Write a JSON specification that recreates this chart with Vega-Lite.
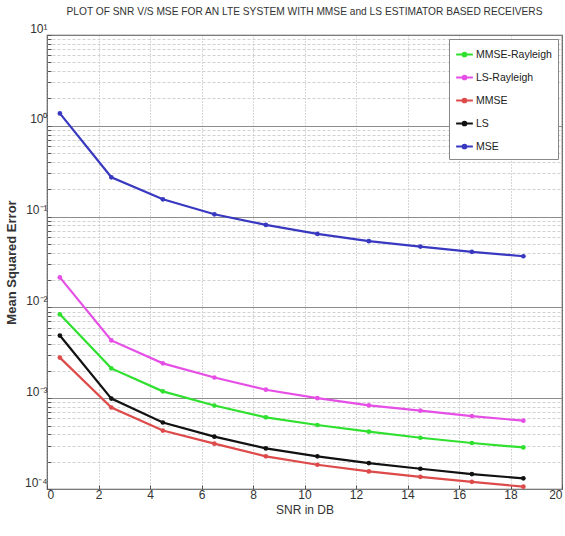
{
  "$schema": "https://vega.github.io/schema/vega-lite/v6.json",
  "width": 515,
  "height": 454,
  "autosize": {"type": "none"},
  "padding": {"left": 47, "top": 35, "right": 3, "bottom": 47},
  "background": "white",
  "title": {
    "text": "PLOT OF SNR V/S MSE FOR AN LTE SYSTEM WITH MMSE and LS ESTIMATOR BASED RECEIVERS",
    "font": "Liberation Sans",
    "fontSize": 10.2,
    "fontWeight": "normal",
    "color": "#333",
    "anchor": "middle",
    "offset": 5
  },
  "config": {
    "view": {"stroke": "#555", "strokeWidth": 1.2},
    "font": "Liberation Sans"
  },
  "data": {
    "values": [
      {"snr": 0.5, "mse": 1.37, "series": "MSE"},
      {"snr": 2.5, "mse": 0.271, "series": "MSE"},
      {"snr": 4.5, "mse": 0.155, "series": "MSE"},
      {"snr": 6.5, "mse": 0.106, "series": "MSE"},
      {"snr": 8.5, "mse": 0.081, "series": "MSE"},
      {"snr": 10.5, "mse": 0.0645, "series": "MSE"},
      {"snr": 12.5, "mse": 0.0536, "series": "MSE"},
      {"snr": 14.5, "mse": 0.0468, "series": "MSE"},
      {"snr": 16.5, "mse": 0.0409, "series": "MSE"},
      {"snr": 18.5, "mse": 0.0366, "series": "MSE"},
      {"snr": 0.5, "mse": 0.0214, "series": "LS-Rayleigh"},
      {"snr": 2.5, "mse": 0.00433, "series": "LS-Rayleigh"},
      {"snr": 4.5, "mse": 0.00242, "series": "LS-Rayleigh"},
      {"snr": 6.5, "mse": 0.00169, "series": "LS-Rayleigh"},
      {"snr": 8.5, "mse": 0.00124, "series": "LS-Rayleigh"},
      {"snr": 10.5, "mse": 0.00100, "series": "LS-Rayleigh"},
      {"snr": 12.5, "mse": 0.000833, "series": "LS-Rayleigh"},
      {"snr": 14.5, "mse": 0.000728, "series": "LS-Rayleigh"},
      {"snr": 16.5, "mse": 0.000636, "series": "LS-Rayleigh"},
      {"snr": 18.5, "mse": 0.000565, "series": "LS-Rayleigh"},
      {"snr": 0.5, "mse": 0.0084, "series": "MMSE-Rayleigh"},
      {"snr": 2.5, "mse": 0.00213, "series": "MMSE-Rayleigh"},
      {"snr": 4.5, "mse": 0.00119, "series": "MMSE-Rayleigh"},
      {"snr": 6.5, "mse": 0.00083, "series": "MMSE-Rayleigh"},
      {"snr": 8.5, "mse": 0.000615, "series": "MMSE-Rayleigh"},
      {"snr": 10.5, "mse": 0.000507, "series": "MMSE-Rayleigh"},
      {"snr": 12.5, "mse": 0.000428, "series": "MMSE-Rayleigh"},
      {"snr": 14.5, "mse": 0.000367, "series": "MMSE-Rayleigh"},
      {"snr": 16.5, "mse": 0.000321, "series": "MMSE-Rayleigh"},
      {"snr": 18.5, "mse": 0.000287, "series": "MMSE-Rayleigh"},
      {"snr": 0.5, "mse": 0.0049, "series": "LS"},
      {"snr": 2.5, "mse": 0.00099, "series": "LS"},
      {"snr": 4.5, "mse": 0.00054, "series": "LS"},
      {"snr": 6.5, "mse": 0.000377, "series": "LS"},
      {"snr": 8.5, "mse": 0.00028, "series": "LS"},
      {"snr": 10.5, "mse": 0.000229, "series": "LS"},
      {"snr": 12.5, "mse": 0.000193, "series": "LS"},
      {"snr": 14.5, "mse": 0.000167, "series": "LS"},
      {"snr": 16.5, "mse": 0.000146, "series": "LS"},
      {"snr": 18.5, "mse": 0.000131, "series": "LS"},
      {"snr": 0.5, "mse": 0.0028, "series": "MMSE"},
      {"snr": 2.5, "mse": 0.00079, "series": "MMSE"},
      {"snr": 4.5, "mse": 0.00044, "series": "MMSE"},
      {"snr": 6.5, "mse": 0.000316, "series": "MMSE"},
      {"snr": 8.5, "mse": 0.000229, "series": "MMSE"},
      {"snr": 10.5, "mse": 0.000185, "series": "MMSE"},
      {"snr": 12.5, "mse": 0.000156, "series": "MMSE"},
      {"snr": 14.5, "mse": 0.000136, "series": "MMSE"},
      {"snr": 16.5, "mse": 0.00012, "series": "MMSE"},
      {"snr": 18.5, "mse": 0.000106, "series": "MMSE"}
    ]
  },
  "mark": {
    "type": "line",
    "strokeWidth": 2.2,
    "point": {"filled": true, "size": 22}
  },
  "encoding": {
    "x": {
      "field": "snr",
      "type": "quantitative",
      "scale": {"domain": [0, 20], "nice": false, "zero": false},
      "axis": {
        "title": "SNR in DB",
        "titleFontSize": 12,
        "titleFontWeight": "normal",
        "titleColor": "#333",
        "titlePadding": 4,
        "values": [0, 2, 4, 6, 8, 10, 12, 14, 16, 18, 20],
        "labelFontSize": 12,
        "labelColor": "#333",
        "labelPadding": 4,
        "tickSize": -4,
        "tickColor": "#555",
        "domain": false,
        "grid": true,
        "gridColor": "#999",
        "gridDash": [1, 2],
        "gridWidth": 0.8,
        "labelFlush": true
      }
    },
    "y": {
      "field": "mse",
      "type": "quantitative",
      "scale": {"type": "log", "domain": [0.0001, 10], "nice": false},
      "axis": {
        "title": "Mean Squared Error",
        "titleFontSize": 13,
        "titleFontWeight": "bold",
        "titleColor": "#333",
        "titlePadding": 6,
        "values": [0.0001, 0.0002, 0.0003, 0.0004, 0.0005, 0.0006, 0.0007, 0.0008, 0.0009,
                   0.001, 0.002, 0.003, 0.004, 0.005, 0.006, 0.007, 0.008, 0.009,
                   0.01, 0.02, 0.03, 0.04, 0.05, 0.06, 0.07, 0.08, 0.09,
                   0.1, 0.2, 0.3, 0.4, 0.5, 0.6, 0.7, 0.8, 0.9,
                   1, 2, 3, 4, 5, 6, 7, 8, 9, 10],
        "labelExpr": "abs(log(datum.value)/LN10 - round(log(datum.value)/LN10)) < 0.000001 ? ['10⁻⁴','10⁻³','10⁻²','10⁻¹','10⁰','10¹'][round(log(datum.value)/LN10) + 4] : ''",
        "labelFontSize": 12,
        "labelColor": "#333",
        "labelPadding": 4,
        "labelBaseline": "bottom",
        "tickSize": -4,
        "tickColor": "#555",
        "domain": false,
        "grid": true,
        "gridColor": {
          "condition": {"test": "abs(log(datum.value)/LN10 - round(log(datum.value)/LN10)) < 0.000001", "value": "#808080"},
          "value": "#cccccc"
        },
        "gridDash": {
          "condition": {"test": "abs(log(datum.value)/LN10 - round(log(datum.value)/LN10)) < 0.000001", "value": []},
          "value": [3, 2]
        },
        "gridWidth": 0.9
      }
    },
    "color": {
      "field": "series",
      "type": "nominal",
      "scale": {
        "domain": ["MMSE-Rayleigh", "LS-Rayleigh", "MMSE", "LS", "MSE"],
        "range": ["#2fe02f", "#e64fe6", "#dd4a4a", "#111111", "#3838c0"]
      },
      "legend": {
        "title": null,
        "orient": "top-right",
        "offset": 4,
        "fillColor": "white",
        "strokeColor": "#888",
        "padding": 6,
        "labelFontSize": 10.5,
        "labelColor": "#222",
        "labelOffset": 2,
        "rowPadding": 7,
        "symbolType": "M-1,0H1M-0.22,0a0.22,0.22 0 1,0 0.44,0a0.22,0.22 0 1,0 -0.44,0",
        "symbolSize": 280,
        "symbolStrokeWidth": 2
      }
    }
  }
}
